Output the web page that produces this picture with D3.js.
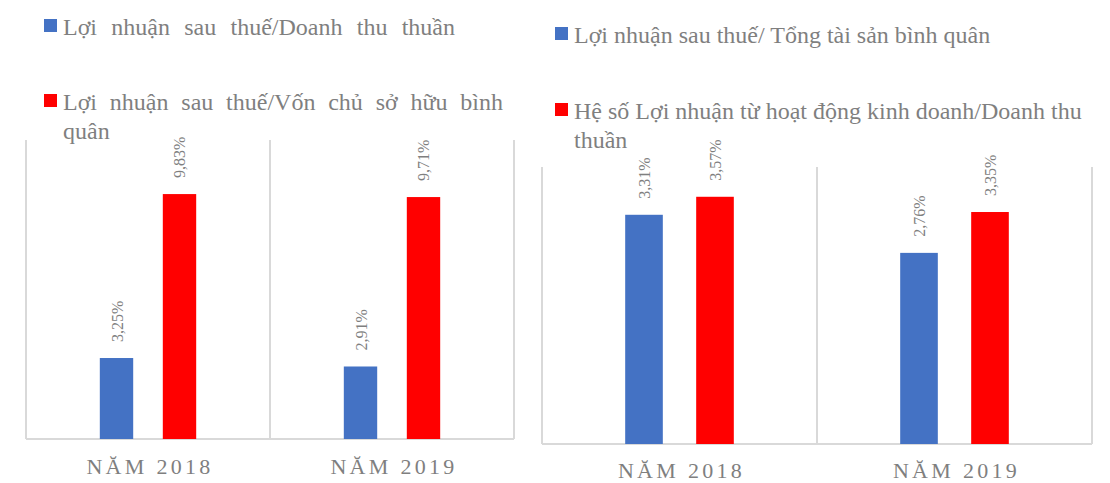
<!DOCTYPE html>
<html>
<head>
<meta charset="utf-8">
<script src="https://d3js.org/d3.v7.min.js"></script>
<style>
  body { margin: 0; background: #fff; }
</style>
</head>
<body>
<svg id="chart" width="1110" height="483"></svg>
<script>

const categories = ["NĂM 2018", "NĂM 2019"];

// left chart
const leftSeries = ["Lợi nhuận sau thuế/Doanh thu thuần", "Lợi nhuận sau thuế/Vốn chủ sở hữu bình quân"];
const leftBlue = [3.25, 2.91];
const leftRed = [9.83, 9.71];

// right chart
const rightSeries = ["Lợi nhuận sau thuế/ Tổng tài sản bình quân", "Hệ số Lợi nhuận từ hoạt động kinh doanh/Doanh thu thuần"];
const rightBlue = [3.31, 2.76];
const rightRed = [3.57, 3.35];

const colors = ["#4472c4", "#ff0000"];
const font = "Liberation Serif";
const grey = "#7f7f7f";
const fmt = v => d3.format(".2f")(v).replace(".", ",") + "%";

const svg = d3.select("#chart");

function drawPanel(opt) {
  const g = svg.append("g");
  const x0 = d3.scaleBand().domain(categories).range([opt.left, opt.right]);
  const y = d3.scaleLinear().domain([0, opt.max]).range([opt.bottom, opt.top]);
  const gw = x0.bandwidth() * 0.395;
  const x1 = d3.scaleBand().domain([0, 1]).range([-gw / 2, gw / 2]).paddingInner(0.47);

  // frame lines
  const edges = [opt.left, ...categories.map(c => x0(c) + x0.bandwidth())];
  g.selectAll(".vl").data(edges).join("line")
    .attr("x1", d => d).attr("x2", d => d)
    .attr("y1", opt.top).attr("y2", opt.bottom)
    .attr("stroke", "#d9d9d9").attr("stroke-width", 2);
  g.append("line")
    .attr("x1", opt.left).attr("x2", opt.right)
    .attr("y1", opt.bottom).attr("y2", opt.bottom)
    .attr("stroke", "#d9d9d9").attr("stroke-width", 2);

  const rows = [];
  categories.forEach((c, i) => {
    rows.push({ c, s: 0, v: opt.blue[i] });
    rows.push({ c, s: 1, v: opt.red[i] });
  });

  g.selectAll(".bar").data(rows).join("rect")
    .attr("x", d => x0(d.c) + x0.bandwidth() / 2 + x1(d.s))
    .attr("width", x1.bandwidth())
    .attr("y", d => y(d.v))
    .attr("height", d => y(0) - y(d.v))
    .attr("fill", d => colors[d.s]);

  g.selectAll(".lbl").data(rows).join("text")
    .attr("transform", d => {
      const cx = x0(d.c) + x0.bandwidth() / 2 + x1(d.s) + x1.bandwidth() / 2;
      return `translate(${cx + 6},${y(d.v) - 16}) rotate(-90)`;
    })
    .attr("font-family", font)
    .attr("font-size", 16)
    .attr("fill", grey)
    .text(d => fmt(d.v));

  g.selectAll(".cat").data(categories).join("text")
    .attr("x", d => x0(d) + x0.bandwidth() / 2 + 2)
    .attr("y", opt.catY)
    .attr("text-anchor", "middle")
    .attr("font-family", font)
    .attr("font-size", 22)
    .attr("letter-spacing", 3.3)
    .attr("fill", grey)
    .text(d => d);

  // legend
  opt.legend.forEach((item, i) => {
    g.append("rect")
      .attr("x", item.x).attr("y", item.y - 16)
      .attr("width", 13).attr("height", 13)
      .attr("fill", colors[i]);
    item.lines.forEach((ln, k) => {
      const t = g.append("text")
        .attr("x", item.x + 19).attr("y", item.y + k * 29)
        .attr("font-family", font)
        .attr("font-size", 24)
        .attr("fill", grey)
        .text(ln);
      const w = item.widths && item.widths[k];
      if (w) {
        const gaps = ln.split(" ").length - 1;
        const extra = (w - t.node().getComputedTextLength()) / gaps;
        t.attr("word-spacing", extra);
      }
    });
  });
}

drawPanel({
  left: 26, right: 514, top: 140, bottom: 439, max: 12, catY: 474,
  blue: leftBlue, red: leftRed,
  legend: [
    { x: 44, y: 35, lines: [leftSeries[0]], widths: [392] },
    { x: 44, y: 110, lines: ["Lợi nhuận sau thuế/Vốn chủ sở hữu bình", "quân"], widths: [440] }
  ]
});

drawPanel({
  left: 542, right: 1092, top: 167, bottom: 444, max: 4, catY: 478,
  blue: rightBlue, red: rightRed,
  legend: [
    { x: 555, y: 43, lines: [rightSeries[0]] },
    { x: 555, y: 119, lines: ["Hệ số Lợi nhuận từ hoạt động kinh doanh/Doanh thu", "thuần"] }
  ]
});

</script>
</body>
</html>
